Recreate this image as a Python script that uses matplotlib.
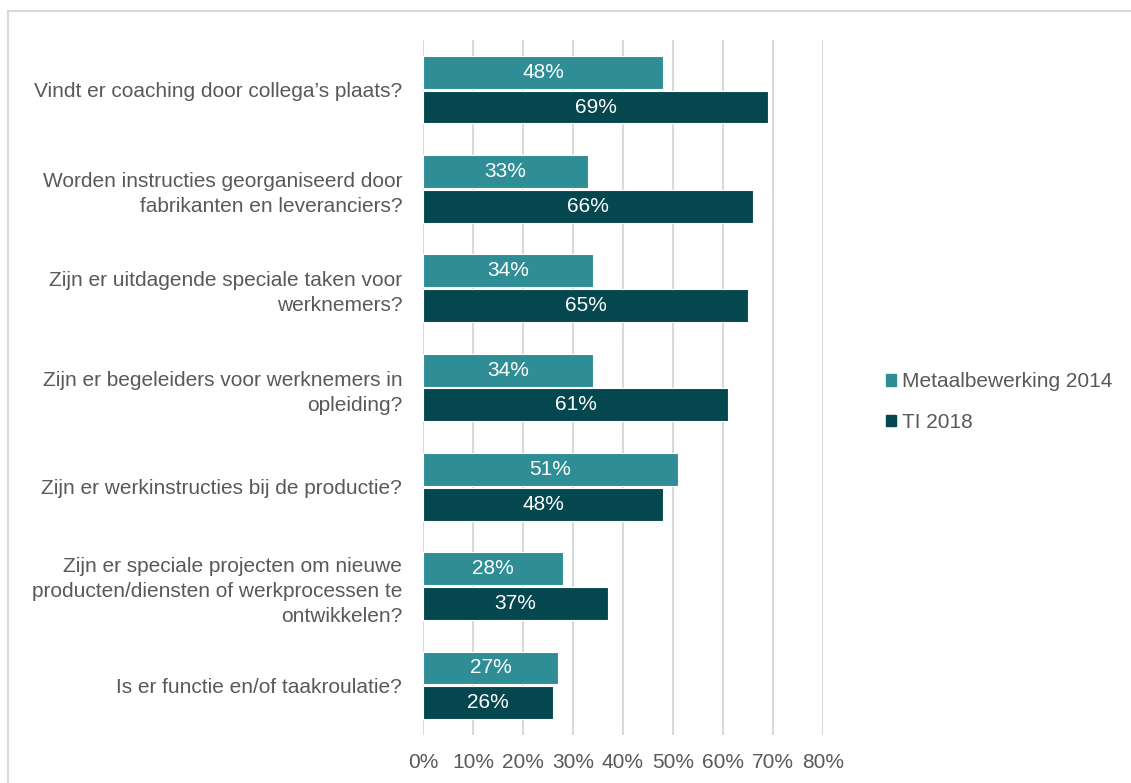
import numpy as np
import matplotlib.pyplot as plt
from matplotlib.lines import Line2D
from matplotlib.patches import Patch

plt.rcParams['font.family'] = ['Liberation Sans', 'DejaVu Sans']

# vragen (van boven naar beneden)
vragen = [
    "Vindt er coaching door collega’s plaats?",
    "Worden instructies georganiseerd door\nfabrikanten en leveranciers?",
    "Zijn er uitdagende speciale taken voor\nwerknemers?",
    "Zijn er begeleiders voor werknemers in\nopleiding?",
    "Zijn er werkinstructies bij de productie?",
    "Zijn er speciale projecten om nieuwe\nproducten/diensten of werkprocessen te\nontwikkelen?",
    "Is er functie en/of taakroulatie?",
]
metaal_2014 = [48, 33, 34, 34, 51, 28, 27]
ti_2018 = [69, 66, 65, 61, 48, 37, 26]
series_namen = ["Metaalbewerking 2014", "TI 2018"]

kleur_licht = '#2E8D95'
kleur_donker = '#05474F'
grijs = '#595959'
fs = 15

fig = plt.figure(figsize=(11.31, 7.83), dpi=100)
ax = fig.add_axes([423 / 1131, 1 - 735 / 783, 400 / 1131, 695 / 783])

y = np.arange(len(vragen))
h = 0.33
b1 = ax.barh(y - h / 2 - 0.01, metaal_2014, height=h, color=kleur_licht,
             edgecolor='white', linewidth=0.8, zorder=3)
b2 = ax.barh(y + h / 2 + 0.01, ti_2018, height=h, color=kleur_donker,
             edgecolor='white', linewidth=0.8, zorder=3)

for bars, vals in ((b1, metaal_2014), (b2, ti_2018)):
    for bar, v in zip(bars, vals):
        ax.text(bar.get_width() / 2, bar.get_y() + bar.get_height() / 2,
                f"{v}%", ha='center', va='center', color='white',
                fontsize=fs, zorder=4)

ax.set_xlim(0, 80)
ax.set_ylim(len(vragen) - 0.5, -0.5)
ax.set_xticks(np.arange(0, 81, 10))
ax.set_xticklabels([f"{t}%" for t in range(0, 81, 10)])
ax.set_yticks(y)
ax.set_yticklabels(vragen, linespacing=1.4)
ax.tick_params(axis='both', length=0, labelsize=fs, colors=grijs)
ax.tick_params(axis='y', pad=15)
ax.tick_params(axis='x', pad=13)
ax.grid(axis='x', color='#D9D9D9', linewidth=1.5, zorder=0)
for s in ax.spines.values():
    s.set_visible(False)

handles = [Patch(color=kleur_licht), Patch(color=kleur_donker)]
fig.legend(handles, series_namen, loc='center left',
           bbox_to_anchor=(867 / 1131, 1 - 402 / 783), frameon=False,
           fontsize=fs, labelcolor=grijs, handlelength=0.5, handleheight=0.5,
           handletextpad=0.3, labelspacing=1.05)

# rand om de figuur
fig.add_artist(Line2D([8 / 1131, 8 / 1131], [0, 1 - 11 / 783],
                      transform=fig.transFigure, color='#D9D9D9', lw=1.5))
fig.add_artist(Line2D([8 / 1131, 1], [1 - 11 / 783, 1 - 11 / 783],
                      transform=fig.transFigure, color='#D9D9D9', lw=1.5))

fig.savefig('out.png', dpi=100)
